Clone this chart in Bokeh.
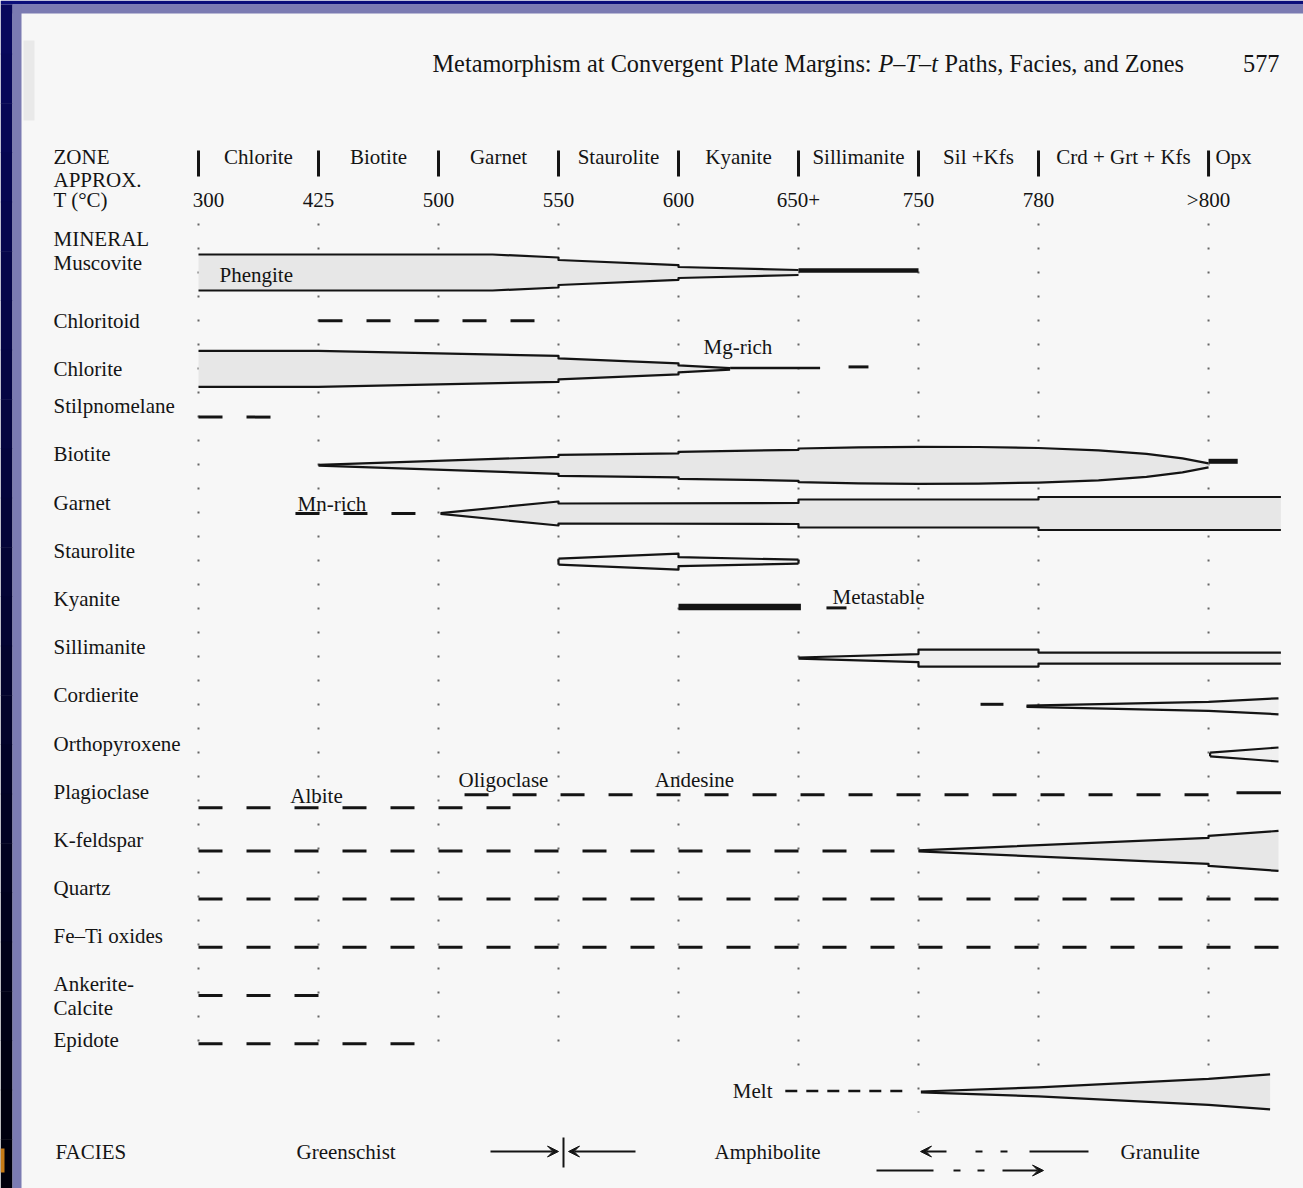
from bokeh.plotting import figure
from bokeh.models import Range1d, Arrow, VeeHead
from bokeh.core.properties import value
from bokeh.embed import file_html
from bokeh.resources import INLINE

# ---------------------------------------------------------------- content
zone_names = ["Chlorite", "Biotite", "Garnet", "Staurolite", "Kyanite",
              "Sillimanite", "Sil +Kfs", "Crd + Grt + Kfs", "Opx"]
zone_temps = ["300", "425", "500", "550", "600", "650+", "750", "780", ">800"]
# isograd positions along the zone sequence (the last zone is drawn wider)
zone_edges = [0, 1, 2, 3, 4, 5, 6, 7, 8.417]

minerals = ["Muscovite", "Chloritoid", "Chlorite", "Stilpnomelane", "Biotite",
            "Garnet", "Staurolite", "Kyanite", "Sillimanite", "Cordierite",
            "Orthopyroxene", "Plagioclase", "K-feldspar", "Quartz",
            "Fe\u2013Ti oxides", "Ankerite-Calcite", "Epidote", "Melt"]

# relative abundance (band half-thickness) at points along the zone sequence
muscovite_band = [(0, 18), (2.45, 18), (3, 15), (3, 12.5), (4, 7.3), (4, 5.5), (5, 2.5)]
chlorite_band = [(0, 18), (1, 18), (3, 13), (3, 10.5), (4, 5.5), (4, 3.5), (4.43, 0.8)]
biotite_band = [(1, 0.4), (3, 8.5), (3, 10.5), (4, 12), (4, 13.5), (5, 15.5), (5, 16.8),
                (5.5, 18), (6, 18.5), (6.5, 18.3), (7, 17.3), (7.5, 15), (7.9, 11.5),
                (8.2, 7), (8.417, 2)]
garnet_band = [(2.017, 0.4), (3, 12), (3, 10), (5, 10.5), (5, 14), (7, 14), (7, 16.5), (9.02, 16.5)]
staurolite_band = [(3, 3), (4, 8), (4, 4.5), (5, 2)]
sillimanite_band = [(5, 0.6), (6, 4), (6, 8.5), (7, 8.5), (7, 5.5), (9.02, 5.5)]
cordierite_band = [(6.9, 0.6), (8.417, 4.5), (9.0, 8)]
orthopyroxene_band = [(8.43, 1.8), (9.0, 7)]
kfeldspar_band = [(6, 0.5), (8.417, 13), (8.417, 15), (9.0, 20)]
melt_band = [(6.02, 0.4), (7, 4.5), (8.417, 13), (8.93, 17.5)]

# minor amounts drawn as solid bars (start, end)
muscovite_trace = [(5, 6)]
chlorite_trace = [(4.43, 5.18)]
biotite_trace = [(8.417, 8.66)]
kyanite_range = [(4, 5.02)]

# uncertain or sporadic occurrence drawn dashed (start, end)
chloritoid_dashed = [(1, 2.8)]
chlorite_dashed = [(5.417, 5.583)]
stilpnomelane_dashed = [(0, 0.6)]
garnet_dashed = [(0.808, 1.808)]
kyanite_dashed = [(5.233, 5.4)]
cordierite_dashed = [(6.517, 6.708)]
plagioclase_albite = [(0, 2.625)]
plagioclase_calcic = [(2.217, 8.45)]
plagioclase_solid = [(8.65, 9.02)]
kfeldspar_dashed = [(0, 5.83)]
quartz_dashed = [(0, 9.02)]
fe_ti_dashed = [(0, 9.02)]
ankerite_dashed = [(0, 1.033)]
epidote_dashed = [(0, 1.817)]
melt_dashed = [(4.89, 5.89)]

facies = ["Greenschist", "Amphibolite", "Granulite"]

# ---------------------------------------------------------------- layout
W, H = 1303, 1188
ZONE_PX, X0_PX = 120.0, 198.0      # screen pixels per zone, first isograd
ROW_PX, Y0_PX = 48.2, 272.0        # screen pixels per mineral row, first row
AB = 1.0 / ROW_PX                  # abundance unit -> row units


def X(px):
    return (px - X0_PX) / ZONE_PX


def Y(px):
    return (px - Y0_PX) / ROW_PX


INK = "#141414"
FILL = "#e7e7e7"
PAGE = "#f7f7f7"
DOT = "#666666"
FONT = value("Liberation Serif")
FS = "21px"

p = figure(width=W, height=H, x_range=Range1d(X(0), X(W)),
           y_range=Range1d(Y(H), Y(0)), output_backend="svg",
           toolbar_location=None, min_border=0)
p.axis.visible = False
p.grid.visible = False
p.outline_line_color = None
p.background_fill_color = PAGE
p.border_fill_color = "#0b0e7a"

# slide frame around the page
p.quad(left=[X(0)], right=[X(W)], top=[Y(0)], bottom=[Y(4)], fill_color="#0b0e7a", line_color=None)
p.quad(left=[X(12)], right=[X(W)], top=[Y(4)], bottom=[Y(13)], fill_color="#7b7bb2", line_color=None)
n = 24
for i in range(n):
    t = i / (n - 1)
    r, g, b = int(8 * (1 - t)), int(8 * (1 - t)), int(92 * (1 - t) + 12 * t)
    p.quad(left=[X(0)], right=[X(12)], top=[Y(4 + i * (H - 4) / n)],
           bottom=[Y(4 + (i + 1) * (H - 4) / n) + 0.01],
           fill_color=f"#{r:02x}{g:02x}{b:02x}", line_color=None)
p.quad(left=[X(12)], right=[X(21)], top=[Y(4)], bottom=[Y(H)], fill_color="#7b7bb2", line_color=None)
p.quad(left=[X(0)], right=[X(4)], top=[Y(1148)], bottom=[Y(1172)], fill_color="#c67a16", line_color=None)
p.quad(left=[X(23)], right=[X(34)], top=[Y(40)], bottom=[Y(120)], fill_color="#e9e9e9", line_color=None)


def text(x, y, s, size=FS, align="left", style="normal", color=INK):
    p.text(x=[x], y=[y], text=[s], text_font=FONT, text_font_size=size,
           text_align=align, text_baseline="middle", text_color=color,
           text_font_style=style)


# running head
text(X(432), Y(63), "Metamorphism at Convergent Plate Margins:", size="24.3px")
text(X(878), Y(63), "P\u2013T\u2013t", size="24.3px", style="italic")
text(X(944), Y(63), "Paths, Facies, and Zones", size="24.3px")
text(X(1279), Y(63), "577", size="24.3px", align="right")

# header block
text(X(53), Y(156), "ZONE")
text(X(53), Y(179), "APPROX.")
text(X(53), Y(199), "T (\u00b0C)")
text(X(53), Y(238), "MINERAL")
text(X(55), Y(1151), "FACIES")

for i, e in enumerate(zone_edges):
    p.line([e, e], [Y(150), Y(176)], line_width=3, color=INK)
    tx = e + (X(208) if i == 0 else 0)
    text(tx, Y(199), zone_temps[i], align="center")
    if i + 1 < len(zone_edges):
        text((e + zone_edges[i + 1]) / 2, Y(156), zone_names[i], align="center")
    else:
        text(e + 25 / ZONE_PX, Y(156), zone_names[i], align="center")

# dotted isograd guides
guide_end_px = [1043, 1043, 1043, 1043, 1043, 1066, 1112, 1090, 1090]
for e, end in zip(zone_edges, guide_end_px):
    p.line([e, e], [Y(223), Y(end)], line_width=2, line_dash="2 22", color=DOT)

row = {m: i for i, m in enumerate(minerals)}

# mineral names in the left column (melt is labelled beside its own line)
label_dy = {"Chloritoid": 0, "Chlorite": 0, "Epidote": -4, "Muscovite": -10}
for m in minerals:
    if m == "Melt":
        continue
    y = row[m] + label_dy.get(m, -11) * AB
    if m == "Ankerite-Calcite":
        text(X(53), row[m] - 12 * AB, "Ankerite-")
        text(X(53), row[m] + 12 * AB, "Calcite")
    else:
        text(X(53), y, m)


def band(m, pts, close_left=False, close_right=False, fill=FILL):
    xs = [q[0] for q in pts]
    top = [row[m] - q[1] * AB for q in pts]
    bot = [row[m] + q[1] * AB for q in pts]
    p.patch(xs + xs[::-1], top + bot[::-1], fill_color=fill, line_color=None)
    kw = dict(line_width=2.2, color=INK, line_join="round")
    p.line(xs, top, **kw)
    p.line(xs, bot, **kw)
    if close_left:
        p.line([xs[0], xs[0]], [top[0], bot[0]], **kw)
    if close_right:
        p.line([xs[-1], xs[-1]], [top[-1], bot[-1]], **kw)


def bars(m, ranges, width, dy=0.0, dash="solid"):
    for a, b in ranges:
        p.line([a, b], [row[m] + dy * AB] * 2, line_width=width, color=INK,
               line_dash=dash, line_cap="butt")


band("Muscovite", muscovite_band)
bars("Muscovite", muscovite_trace, 4.5, dy=-2)
band("Chlorite", chlorite_band)
bars("Chlorite", chlorite_trace, 2.5, dy=-1)
band("Biotite", biotite_band)
bars("Biotite", biotite_trace, 5, dy=-4)
band("Garnet", garnet_band)
band("Staurolite", staurolite_band, close_left=True, close_right=True, fill="#f1f1f1")
bars("Kyanite", kyanite_range, 6.5, dy=-3)
band("Sillimanite", sillimanite_band, fill="#eeeeee")
band("Cordierite", cordierite_band, fill="#f0f0f0")
band("Orthopyroxene", orthopyroxene_band, close_left=True, fill="#f0f0f0")
band("K-feldspar", kfeldspar_band)
band("Melt", melt_band)

DASH = "24 24"
bars("Chloritoid", chloritoid_dashed, 3, dash=DASH)
bars("Chlorite", chlorite_dashed, 3, dy=-2, dash=DASH)
bars("Stilpnomelane", stilpnomelane_dashed, 3, dash=DASH)
bars("Garnet", garnet_dashed, 3, dy=0, dash=DASH)
bars("Kyanite", kyanite_dashed, 3, dy=-2, dash=DASH)
bars("Cordierite", cordierite_dashed, 3, dy=-2, dash=DASH)
bars("Plagioclase", plagioclase_albite, 3, dy=5, dash=DASH)
bars("Plagioclase", plagioclase_calcic, 3, dy=-8, dash=DASH)
bars("Plagioclase", plagioclase_solid, 3, dy=-10)
bars("K-feldspar", kfeldspar_dashed, 3, dash=DASH)
bars("Quartz", quartz_dashed, 3, dash=DASH)
bars("Fe\u2013Ti oxides", fe_ti_dashed, 3, dash=DASH)
bars("Ankerite-Calcite", ankerite_dashed, 3, dash=DASH)
bars("Epidote", epidote_dashed, 3, dash=DASH)
bars("Melt", melt_dashed, 2.5, dy=-1, dash="12 9")

# annotations inside the rows
text(X(219), row["Muscovite"] + 2 * AB, "Phengite")
text(X(703), row["Chlorite"] - 22 * AB, "Mg-rich")
text(X(297), row["Garnet"] - 10 * AB, "Mn-rich")
text(X(832), row["Kyanite"] - 13 * AB, "Metastable")
text(X(316), row["Plagioclase"] - 7 * AB, "Albite", align="center")
text(X(503), row["Plagioclase"] - 23 * AB, "Oligoclase", align="center")
text(X(694), row["Plagioclase"] - 23 * AB, "Andesine", align="center")
text(X(772), row["Melt"] - 1 * AB, "Melt", align="right")

# facies row
fy = Y(1151)
text(X(296), fy, facies[0])
text(X(714), fy, facies[1])
text(X(1120), fy, facies[2])


def arrow(x0, x1, y):
    p.add_layout(Arrow(end=VeeHead(size=11, fill_color=INK, line_color=INK, line_width=1),
                       x_start=x0, y_start=y, x_end=x1, y_end=y,
                       line_width=1.8, line_color=INK))


arrow(X(490), X(558), fy)
arrow(X(635), X(568), fy)
p.line([X(563), X(563)], [Y(1137), Y(1167)], line_width=2, color=INK)

arrow(X(946), X(920), fy)
for a, b in [(975, 982), (1000, 1007)]:
    p.line([X(a), X(b)], [fy, fy], line_width=2, color=INK)
p.line([X(1029), X(1088)], [fy, fy], line_width=1.8, color=INK)

fy2 = Y(1170)
p.line([X(876), X(933)], [fy2, fy2], line_width=1.8, color=INK)
for a, b in [(953, 960), (977, 984)]:
    p.line([X(a), X(b)], [fy2, fy2], line_width=2, color=INK)
arrow(X(1002), X(1043), fy2)

open("out.html", "w").write(file_html(p, INLINE))
